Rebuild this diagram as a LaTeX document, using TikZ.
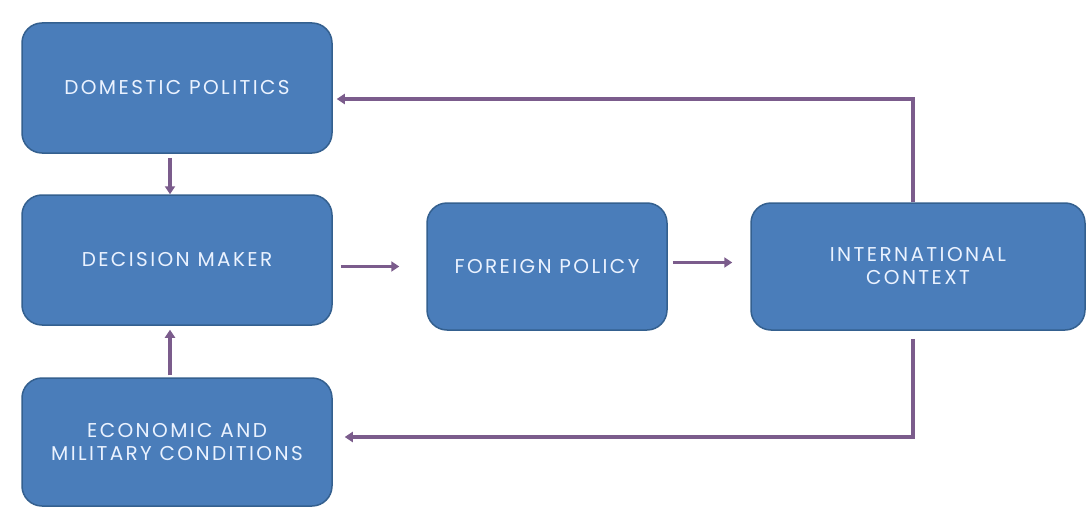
\documentclass[tikz,border=0pt]{standalone}
\usepackage{fontspec}
\setmainfont{Poppins}[LetterSpace=12]
\usetikzlibrary{arrows.meta}
\definecolor{boxfill}{HTML}{4A7DBA}
\definecolor{boxline}{HTML}{34608F}
\definecolor{arr}{HTML}{7B5C8C}
\definecolor{txt}{HTML}{EAF2FF}
\begin{document}
\begin{tikzpicture}[x=1pt,y=-1pt,
  box/.style={draw=boxline, line width=1.5pt, fill=boxfill, rounded corners=20pt,
    inner sep=0pt, text=txt, font=\fontsize{20}{23}\selectfont, align=center},
  conn/.style={draw=arr, line width=3.2pt, -{Triangle[length=8pt,width=10pt]}}]
\useasboundingbox[fill=white] (0,0) rectangle (1086,508);
\node[box, minimum width=310pt, minimum height=130pt] (dom) at (177,88) {DOMESTIC POLITICS};
\node[box, minimum width=310pt, minimum height=130pt] (dec) at (177,260) {DECISION MAKER};
\node[box, minimum width=310pt, minimum height=128pt] (eco) at (177,442) {ECONOMIC AND\\MILITARY CONDITIONS};
\node[box, minimum width=240pt, minimum height=127pt] (fp) at (547,266.5) {FOREIGN POLICY};
\node[box, minimum width=334pt, minimum height=127pt] (ic) at (918,266.5) {INTERNATIONAL\\CONTEXT};
\draw[conn] ([xshift=-7pt,yshift=-4pt]dom.south) -- ([xshift=-7pt]dec.north);
\draw[conn] ([xshift=-7pt,yshift=2pt]eco.north) -- ([xshift=-7pt,yshift=-4pt]dec.south);
\draw[conn] ([xshift=8pt]dec.east |- fp.west) -- ([xshift=-27pt]fp.west);
\draw[conn] ([xshift=5pt,yshift=4pt]fp.east) -- ([xshift=-18pt,yshift=4pt]ic.west);
\draw[conn] ([xshift=-5pt]ic.north) |- ([xshift=4pt,yshift=-11pt]dom.east);
\draw[conn] ([xshift=-5pt,yshift=-8pt]ic.south) |- ([xshift=12pt,yshift=5pt]eco.east);
\end{tikzpicture}
\end{document}
